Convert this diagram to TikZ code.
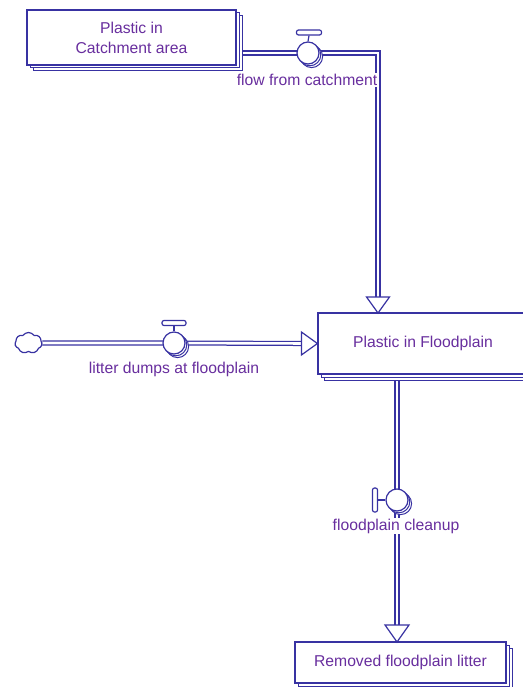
\documentclass[tikz,border=0pt]{standalone}
\usepackage{fontspec}
\setmainfont{Liberation Sans}
\usetikzlibrary{shadows,shapes.symbols,calc}
\definecolor{lc}{RGB}{56,50,162}
\definecolor{tc}{RGB}{104,46,158}
\pgfdeclarelayer{paper}
\pgfdeclarelayer{background}
\pgfsetlayers{paper,background,main}
\tikzset{
  stock/.style={draw=lc, line width=1.2pt, fill=white, rectangle, inner sep=0pt,
    text=tc, align=center, font=\fontsize{15.7}{20}\selectfont,
    double copy shadow={shadow xshift=3pt, shadow yshift=-3pt, draw=lc, fill=white, line width=1pt}},
  valve/.style={draw=lc, line width=1.2pt, fill=white, circle, inner sep=0pt, minimum size=22pt,
    double copy shadow={shadow xshift=1.8pt, shadow yshift=-1.8pt, draw=lc, fill=white, line width=1pt}},
  handlebar/.style={draw=lc, line width=1.2pt, fill=white, rectangle, rounded corners=2pt, inner sep=0pt},
  pipe/.style={draw=lc, line width=1.25pt, double=white, double distance=2.6pt},
  tri/.style={draw=lc, line width=1.2pt, fill=white, line join=miter},
  lbl/.style={text=tc, fill=white, font=\fontsize{15.7}{20}\selectfont, inner xsep=1pt, inner ysep=1pt},
  source/.style={cloud, cloud puffs=7, cloud puff arc=110, draw=lc, line width=1.2pt, fill=white,
    minimum width=27pt, minimum height=21pt, inner sep=0pt, aspect=1.3}
}
\begin{document}
\begin{tikzpicture}[x=1pt,y=-1pt]
\begin{pgfonlayer}{paper}
\fill[white] (0,0) rectangle (522,687);
\end{pgfonlayer}
\useasboundingbox (0,0) rectangle (522,687);

% stocks
\node[stock, minimum width=209pt, minimum height=55pt] (catch) at (131.5,37.5) {Plastic in\\Catchment area};
\node[stock, minimum width=210pt, minimum height=61pt] (fp) at (423,343.5) {Plastic in Floodplain};
\node[stock, minimum width=211pt, minimum height=41pt] (rem) at (400.5,662.5) {Removed floodplain litter};

% source cloud
\node[source] (src) at (28.5,343) {};

% valves with handles
\node[valve] (v1) at (308,53) {};
\node[handlebar, minimum width=25pt, minimum height=5pt] (h1) at (309,32.5) {};
\draw[lc, line width=1.2pt] (v1.north) -- (h1.south);

\node[valve] (v2) at (174,343) {};
\node[handlebar, minimum width=24pt, minimum height=5pt] (h2) at (174,323) {};
\draw[lc, line width=1.2pt] (v2.north) -- (h2.south);

\node[valve] (v3) at (397,500) {};
\node[handlebar, minimum width=5pt, minimum height=24pt] (h3) at (375,500) {};
\draw[lc, line width=1.2pt] (v3.west) -- (h3.east);

% flow labels
\node[lbl] (l1) at (307,80) {flow from catchment};
\node[lbl] (l2) at (174,369) {litter dumps at floodplain};
\node[lbl] (l3) at (396,526) {floodplain cleanup};

% arrow tips on the receiving stocks
\coordinate (tip1) at (378,313);
\coordinate (bend1) at (378,53);
\coordinate (tip3) at (397,642);
\draw[tri] (tip1) -- ++(-11.5,-16) -- ++(23,0) -- cycle;
\draw[tri] (fp.west) -- ++(-16,-11.5) -- ++(0,23) -- cycle;
\draw[tri] (tip3) -- ++(-12,-17) -- ++(24,0) -- cycle;

% pipes behind the stocks, valves and labels
\begin{pgfonlayer}{background}
\draw[pipe] (catch.east |- v1.center) -- (v1.center) -- (bend1) -- ($(tip1)+(0,-10)$);
\draw[pipe] (src.east) -- (v2.center) -- ($(fp.west)+(-10,0)$);
\draw[pipe] (397,370) -- (v3.center) -- ($(tip3)+(0,-10)$);
\end{pgfonlayer}
\end{tikzpicture}
\end{document}
